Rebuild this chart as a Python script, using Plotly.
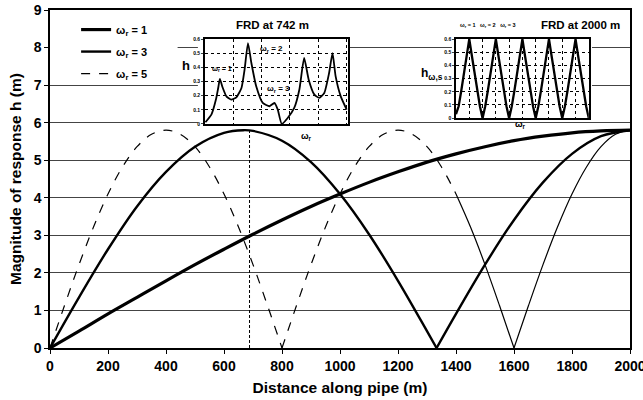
import plotly.graph_objects as go

# ---------------- data ----------------
x1 = [0, 100, 200, 300, 400, 500, 600, 700, 800, 900, 1000, 1100, 1200, 1300, 1400,
      1500, 1600, 1700, 1800, 1900, 2000]
h1 = [0, 0.45, 0.91, 1.35, 1.79, 2.22, 2.63, 3.03, 3.41, 3.77, 4.10, 4.41, 4.69, 4.95,
      5.17, 5.36, 5.52, 5.64, 5.73, 5.78, 5.80]

# omega_r = 3 : two arches meeting at the node (1333 m)
x3a = [0, 100, 200, 300, 400, 500, 600, 667, 700, 800, 900, 1000, 1100, 1200, 1300, 1333]
h3a = [0, 1.35, 2.63, 3.77, 4.69, 5.36, 5.73, 5.80, 5.78, 5.52, 4.95, 4.10, 3.03, 1.79,
       0.45, 0]
x3b = [1333, 1400, 1500, 1600, 1700, 1800, 1900, 2000]
h3b = [0, 0.91, 2.22, 3.41, 4.41, 5.17, 5.64, 5.80]

# omega_r = 5 : arches meeting at the nodes (800 m, 1600 m)
x5a = [0, 50, 100, 150, 200, 250, 300, 350, 400, 450, 500, 550, 600, 650, 700, 750, 800]
h5a = [0, 1.13, 2.22, 3.22, 4.10, 4.82, 5.36, 5.69, 5.80, 5.69, 5.36, 4.82, 4.10, 3.22,
       2.22, 1.13, 0]
x5b = [800, 850, 900, 950, 1000, 1050, 1100, 1150, 1200, 1250, 1300, 1350, 1400]
h5b = [0, 1.13, 2.22, 3.22, 4.10, 4.82, 5.36, 5.69, 5.80, 5.69, 5.36, 4.82, 4.10]
x5c = [1400, 1450, 1500, 1550, 1600]
h5c = [4.10, 3.22, 2.22, 1.13, 0]
x5d = [1600, 1650, 1700, 1750, 1800, 1850, 1900, 1950, 2000]
h5d = [0, 1.13, 2.22, 3.22, 4.10, 4.82, 5.36, 5.69, 5.80]

vline_x = [688, 688]
vline_y = [0, 5.8]

# FRD at 742 m (inset 1)
frd1_w = [0.02, 0.23, 0.39, 0.47, 0.53, 0.62, 0.76, 0.93, 1.11, 1.29, 1.40, 1.52, 1.64,
          1.81, 2.04, 2.28, 2.45, 2.57, 2.71, 2.92, 3.15, 3.33, 3.50, 3.66, 3.86, 4.03,
          4.21, 4.38, 4.50, 4.61, 4.79, 5.00]
frd1_h = [0.012, 0.066, 0.172, 0.254, 0.318, 0.261, 0.195, 0.172, 0.188, 0.254, 0.384,
          0.572, 0.431, 0.266, 0.148, 0.125, 0.148, 0.101, 0.0, 0.042, 0.113, 0.242,
          0.466, 0.313, 0.207, 0.184, 0.219, 0.36, 0.501, 0.336, 0.195, 0.101]

# FRD at 2000 m (inset 2)
frd2_w = [0, 0.1, 0.2, 0.3, 0.4, 0.5, 0.6, 0.7, 0.8, 0.9, 1.0, 1.1, 1.2, 1.3, 1.4, 1.5,
          1.6, 1.7, 1.8, 1.9, 2.0, 2.1, 2.2, 2.3, 2.4, 2.5, 2.6, 2.7, 2.8, 2.9, 3.0, 3.1,
          3.2, 3.3, 3.4, 3.5, 3.6, 3.7, 3.8, 3.9, 4.0, 4.1, 4.2, 4.3, 4.4, 4.5, 4.6, 4.7,
          4.8, 4.9, 5.0]
frd2_h = [0.03, 0.09, 0.21, 0.34, 0.47, 0.60, 0.47, 0.34, 0.21, 0.09, 0.0,
          0.09, 0.21, 0.34, 0.47, 0.60, 0.47, 0.34, 0.21, 0.09, 0.0,
          0.09, 0.21, 0.34, 0.47, 0.60, 0.47, 0.34, 0.21, 0.09, 0.0,
          0.09, 0.21, 0.34, 0.47, 0.60, 0.47, 0.34, 0.21, 0.09, 0.0,
          0.09, 0.21, 0.34, 0.47, 0.60, 0.47, 0.34, 0.21, 0.09, 0.0]

x_ticks = [0, 200, 400, 600, 800, 1000, 1200, 1400, 1600, 1800, 2000]
y_ticks = [0, 1, 2, 3, 4, 5, 6, 7, 8, 9]
inset_y_ticks = [0, 0.1, 0.2, 0.3, 0.4, 0.5, 0.6]

FONT = "Liberation Sans, Arial, sans-serif"

fig = go.Figure()

# ---------------- main curves ----------------
fig.add_trace(go.Scatter(x=x1, y=h1, mode="lines", name="ω<sub>r</sub> = 1",
                         line=dict(color="black", width=3.2, shape="spline"),
                         legendgroup="a"))
for i, (xs, ys) in enumerate([(x3a, h3a), (x3b, h3b)]):
    fig.add_trace(go.Scatter(x=xs, y=ys, mode="lines", name="ω<sub>r</sub> = 3",
                             showlegend=(i == 0),
                             line=dict(color="black", width=2.4, shape="spline"),
                             legendgroup="b"))
for i, (xs, ys, dash) in enumerate([(x5a, h5a, "dash"), (x5b, h5b, "dash"),
                                    (x5c, h5c, "solid"), (x5d, h5d, "solid")]):
    fig.add_trace(go.Scatter(x=xs, y=ys, mode="lines", name="ω<sub>r</sub> = 5",
                             showlegend=(i == 0),
                             line=dict(color="black", width=1.2, dash=dash, shape="spline"),
                             legendgroup="c"))
fig.add_trace(go.Scatter(x=vline_x, y=vline_y, mode="lines", showlegend=False,
                         line=dict(color="black", width=1, dash="3px,2px")))

# ---------------- inset traces ----------------
fig.add_trace(go.Scatter(x=frd1_w, y=frd1_h, mode="lines", showlegend=False,
                         xaxis="x2", yaxis="y2",
                         line=dict(color="black", width=1.8, shape="spline", smoothing=0.5)))
fig.add_trace(go.Scatter(x=frd2_w, y=frd2_h, mode="lines", showlegend=False,
                         xaxis="x3", yaxis="y3",
                         line=dict(color="black", width=2.3)))

# white backgrounds for legend and insets (above gridlines, below traces)
for x0, x1_, y0, y1 in [(0, 440, 7.1, 8.97), (510, 1034, 5.94, 8.96), (1386, 1869, 6.1, 8.96)]:
    fig.add_shape(type="rect", xref="x", yref="y", x0=x0, x1=x1_, y0=y0, y1=y1,
                  fillcolor="white", line=dict(width=0), layer="between")

tickf = dict(family=FONT, size=14, color="black", weight="bold")
titlef = dict(family=FONT, size=15.5, color="black", weight="bold")

fig.update_layout(
    width=643, height=400,
    margin=dict(l=50, r=13, t=10, b=52, autoexpand=False),
    paper_bgcolor="white", plot_bgcolor="white",
    font=dict(family=FONT, color="black"),
    showlegend=True,
    legend=dict(x=0.045, y=0.985, xanchor="left", yanchor="top",
                bgcolor="rgba(0,0,0,0)", tracegroupgap=3,
                font=dict(family=FONT, size=11, color="black", weight="bold"),
                itemwidth=30),
    xaxis=dict(range=[0, 2000], tickvals=x_ticks, showgrid=False, zeroline=False,
               showline=True, linecolor="black", linewidth=1.5, mirror=True,
               ticks="outside", ticklen=4, tickcolor="black", automargin=False,
               ticklabeloverflow="allow",
               tickfont=tickf,
               title=dict(text="Distance along pipe (m)", font=titlef, standoff=10)),
    yaxis=dict(range=[0, 9], tickvals=y_ticks, showgrid=True, gridcolor="#444",
               gridwidth=1, zeroline=False, automargin=False,
               showline=True, linecolor="black", linewidth=1.5, mirror=True,
               ticks="outside", ticklen=4, tickcolor="black",
               tickfont=tickf,
               title=dict(text="Magnitude of response h (m)", font=titlef, standoff=8)),
    xaxis2=dict(domain=[0.267, 0.514], anchor="y2", range=[0, 5.05],
                tickvals=[0, 1, 2, 3, 4, 5], showticklabels=False, automargin=False,
                showgrid=True, gridcolor="black", griddash="dot", gridwidth=0.8,
                zeroline=False, showline=True, linecolor="black", linewidth=1.5,
                mirror=True, ticks=""),
    yaxis2=dict(domain=[0.663, 0.914], anchor="x2", range=[0, 0.6], automargin=False,
                tickvals=inset_y_ticks, showgrid=True, gridcolor="black",
                griddash="dot", gridwidth=0.8, zeroline=False, showline=True,
                linecolor="black", linewidth=1.5, mirror=True, ticks="outside",
                ticklen=2, tickfont=dict(family=FONT, size=5, color="black", weight="bold")),
    xaxis3=dict(domain=[0.700, 0.929], anchor="y3", range=[0, 5], automargin=False,
                tickvals=[0, 0.5, 1, 1.5, 2, 2.5, 3, 3.5, 4, 4.5, 5], showticklabels=False,
                showgrid=True, gridcolor="black", griddash="dot", gridwidth=0.8,
                zeroline=False, showline=True, linecolor="black", linewidth=1.5,
                mirror=True, ticks=""),
    yaxis3=dict(domain=[0.680, 0.914], anchor="x3", range=[0, 0.6], automargin=False,
                tickvals=inset_y_ticks, showgrid=True, gridcolor="black",
                griddash="dot", gridwidth=0.8, zeroline=False, showline=True,
                linecolor="black", linewidth=1.5, mirror=True, ticks="outside",
                ticklen=2, tickfont=dict(family=FONT, size=5, color="black", weight="bold")),
)

def px_ann(text, px, py, size, weight="bold", xanchor="center"):
    fig.add_annotation(text=text, xref="paper", yref="paper",
                       x=(px - 50) / 580, y=(348 - py) / 338, showarrow=False,
                       xanchor=xanchor, yanchor="middle",
                       font=dict(family=FONT, size=size, color="black", weight=weight))

px_ann("FRD at 742 m", 272, 25, 11.5)
px_ann("h", 186, 65, 13)
px_ann("ω<sub>r</sub>", 306, 136, 9)
px_ann("ω<sub>r</sub> = 1", 222, 69, 7)
px_ann("ω<sub>r</sub> = 2", 271, 49, 8)
px_ann("ω<sub>r</sub> = 3", 278, 89, 8)

px_ann("FRD at 2000 m", 580, 25, 11.5)
px_ann("ω<sub>r</sub> = 1   ω<sub>r</sub> = 2   ω<sub>r</sub> = 3", 488, 25, 5.5)
px_ann("h<sub>ω,s</sub>", 445, 74, 12, xanchor="right")
px_ann("ω<sub>r</sub>", 520, 125, 9)

fig.write_html("out.html", config={"displayModeBar": False},
               post_script="document.body.style.margin='0px';")
